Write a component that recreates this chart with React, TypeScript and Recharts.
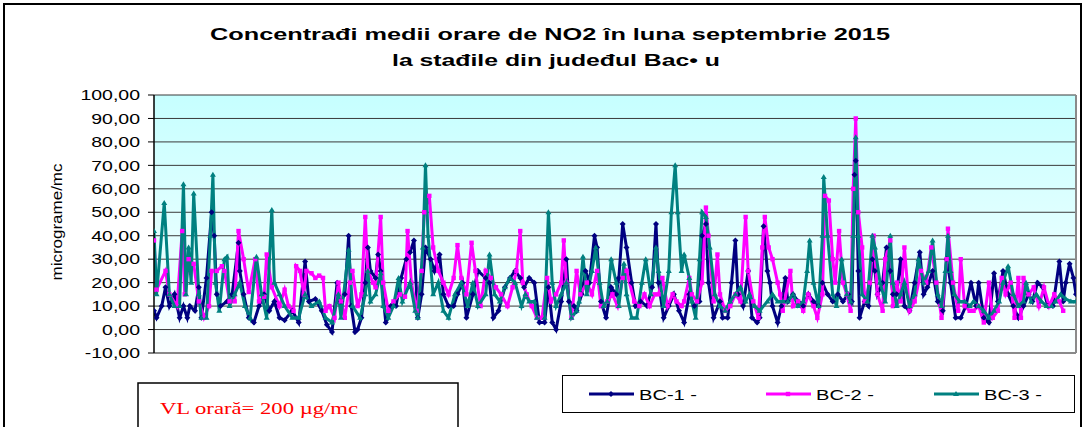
import React from "react";
import {
  LineChart,
  Line,
  XAxis,
  YAxis,
  CartesianGrid,
  ReferenceLine,
  Legend,
} from "recharts";

// hour of the month (0..720) and hourly NO2 value
const hours1 = [0, 2, 6, 9, 12, 16, 20, 23, 26, 28, 32, 35, 37, 41, 45, 47, 49, 52, 57, 61, 66, 67, 70, 74, 78, 82, 86, 90, 94, 98, 102, 108, 113, 118, 121, 126, 131, 135, 139, 143, 146, 149, 152, 154, 157, 159, 162, 165, 167, 169, 173, 175, 177, 181, 185, 189, 193, 197, 200, 203, 206, 209, 212, 216, 219, 223, 226, 230, 234, 237, 241, 244, 249, 253, 259, 262, 265, 269, 274, 278, 282, 286, 289, 293, 297, 301, 305, 308, 311, 314, 318, 322, 324, 328, 330, 334, 337, 340, 344, 346, 349, 353, 357, 361, 363, 366, 369, 373, 376, 380, 385, 389, 392, 394, 398, 402, 406, 410, 414, 418, 422, 426, 428, 431, 433, 437, 442, 444, 448, 451, 454, 456, 460, 464, 467, 471, 473, 476, 479, 481, 483, 487, 490, 493, 495, 499, 503, 507, 511, 515, 519, 522, 526, 530, 534, 538, 542, 545, 547, 548, 550, 551, 555, 558, 561, 563, 565, 569, 572, 575, 577, 580, 583, 586, 590, 594, 598, 601, 604, 608, 612, 616, 619, 622, 626, 630, 634, 638, 642, 644, 648, 652, 656, 659, 663, 667, 671, 675, 679, 683, 686, 690, 694, 698, 702, 707, 710, 712, 715, 718, 720];
const bc1 = [8, 5, 10, 18, 10, 15, 5, 10, 5, 10, 8, 18, 5, 22, 50, 40, 15, 10, 12, 15, 37, 25, 15, 5, 3, 10, 15, 8, 12, 5, 4, 8, 3, 29, 12, 13, 8, 2, -1, 20, 12, 15, 40, 10, -1, 0, 5, 20, 35, 25, 22, 32, 25, 3, 10, 10, 22, 30, 33, 38, 5, 15, 35, 30, 25, 32, 15, 10, 10, 15, 20, 5, 15, 25, 22, 20, 5, 8, 18, 22, 25, 22, 18, 22, 20, 3, 3, 18, 3, 0, 12, 30, 12, 10, 8, 15, 25, 20, 40, 35, 12, 5, 18, 15, 22, 45, 35, 20, 10, 12, 10, 18, 45, 20, 5, 10, 15, 8, 3, 15, 10, 12, 40, 45, 20, 5, 12, 5, 5, 20, 38, 15, 10, 25, 5, 3, 5, 44, 25, 20, 10, 3, 10, 22, 12, 15, 12, 10, 15, 12, 10, 20, 15, 12, 15, 12, 15, 12, 66, 72, 25, 5, 12, 10, 30, 25, 15, 20, 35, 25, 15, 15, 30, 10, 8, 20, 33, 15, 18, 25, 12, 8, 30, 20, 5, 5, 10, 20, 10, 20, 5, 3, 24, 12, 25, 15, 10, 5, 10, 15, 12, 20, 18, 10, 10, 29, 12, 20, 28, 22, 15];

const hours2 = [0, 2, 9, 12, 18, 22, 24, 27, 31, 35, 39, 43, 45, 49, 53, 55, 59, 63, 66, 70, 74, 79, 82, 86, 88, 92, 98, 102, 105, 109, 111, 114, 117, 119, 123, 126, 129, 132, 134, 137, 141, 144, 146, 149, 153, 155, 159, 162, 165, 167, 171, 173, 177, 179, 183, 187, 192, 196, 198, 201, 205, 209, 211, 215, 218, 222, 226, 230, 234, 237, 240, 244, 248, 251, 255, 259, 263, 267, 271, 276, 280, 283, 286, 288, 291, 295, 299, 303, 307, 310, 314, 318, 320, 322, 326, 330, 333, 338, 342, 346, 349, 354, 358, 362, 366, 369, 375, 379, 383, 387, 391, 394, 397, 401, 405, 408, 412, 414, 418, 420, 424, 428, 431, 433, 437, 440, 442, 446, 450, 454, 458, 462, 464, 468, 472, 475, 477, 480, 483, 487, 489, 491, 497, 499, 503, 507, 511, 515, 518, 522, 524, 527, 530, 532, 535, 538, 541, 544, 546, 548, 550, 553, 555, 559, 562, 565, 569, 571, 575, 577, 580, 583, 586, 590, 594, 599, 603, 607, 611, 615, 619, 620, 624, 628, 630, 633, 637, 640, 644, 648, 652, 655, 659, 662, 665, 669, 672, 675, 677, 679, 683, 687, 691, 695, 699, 703, 707, 710];
const bc2 = [38, 17, 25, 15, 10, 42, 15, 30, 28, 12, 5, 10, 25, 25, 27, 25, 12, 12, 42, 30, 16, 30, 12, 14, 32, 18, 10, 17, 10, 8, 27, 25, 15, 25, 24, 22, 23, 22, 8, 10, 5, 20, 12, 5, 20, 25, 10, 15, 48, 25, 20, 18, 48, 20, 8, 12, 15, 14, 42, 20, 8, 25, 50, 57, 35, 25, 20, 15, 22, 36, 22, 15, 37, 25, 10, 25, 22, 18, 15, 10, 18, 25, 42, 20, 15, 10, 5, 5, 22, 12, 15, 20, 38, 20, 5, 25, 15, 20, 15, 25, 10, 12, 15, 10, 22, 25, 12, 10, 15, 10, 15, 15, 22, 10, 15, 12, 10, 12, 22, 15, 12, 20, 52, 40, 12, 32, 15, 8, 10, 15, 12, 48, 25, 12, 5, 35, 48, 35, 30, 20, 15, 8, 25, 10, 12, 8, 15, 10, 5, 15, 57, 55, 30, 20, 42, 20, 15, 8, 60, 90, 50, 35, 12, 20, 40, 15, 8, 30, 38, 10, 20, 12, 35, 8, 12, 25, 20, 35, 20, 5, 30, 43, 20, 8, 30, 10, 8, 8, 10, 3, 20, 5, 8, 22, 15, 20, 5, 22, 5, 22, 15, 18, 10, 18, 10, 15, 12, 8];

const hours3 = [0, 2, 8, 12, 16, 20, 23, 25, 27, 29, 31, 35, 37, 41, 44, 46, 48, 51, 55, 57, 59, 63, 67, 71, 75, 80, 84, 88, 92, 94, 98, 102, 108, 113, 118, 123, 129, 134, 139, 144, 146, 152, 155, 161, 165, 167, 169, 173, 177, 179, 183, 187, 191, 194, 200, 204, 206, 210, 212, 214, 218, 222, 226, 230, 235, 240, 245, 249, 253, 259, 262, 266, 270, 274, 278, 282, 287, 290, 293, 297, 299, 305, 308, 311, 314, 318, 322, 326, 330, 332, 335, 338, 342, 345, 348, 351, 354, 357, 361, 363, 367, 369, 373, 377, 381, 384, 388, 392, 394, 398, 402, 404, 407, 409, 412, 414, 418, 420, 423, 426, 428, 431, 434, 438, 442, 446, 450, 454, 458, 462, 465, 469, 473, 479, 483, 487, 491, 495, 499, 503, 507, 510, 512, 515, 519, 522, 523, 526, 530, 533, 537, 541, 544, 546, 548, 550, 553, 557, 561, 563, 567, 571, 575, 577, 580, 583, 586, 590, 594, 597, 601, 605, 608, 612, 615, 618, 620, 622, 625, 629, 633, 637, 640, 644, 648, 652, 656, 660, 663, 667, 671, 675, 679, 681, 685, 689, 693, 697, 701, 704, 708, 712, 716, 720];
const bc3 = [42, 15, 54, 15, 10, 10, 62, 15, 35, 20, 58, 15, 5, 5, 40, 66, 20, 8, 30, 31, 10, 15, 20, 10, 5, 31, 15, 5, 51, 20, 15, 10, 5, 5, 15, 10, 12, 5, 3, 15, 5, 34, 10, 5, 15, 25, 12, 15, 24, 10, 5, 10, 22, 12, 20, 8, 5, 35, 70, 40, 15, 20, 8, 5, 15, 20, 10, 20, 10, 15, 32, 15, 12, 18, 22, 20, 10, 15, 12, 12, 5, 5, 50, 20, 10, 15, 20, 5, 8, 12, 31, 15, 25, 35, 20, 10, 12, 30, 20, 10, 28, 15, 5, 5, 20, 30, 15, 35, 25, 10, 25, 50, 70, 50, 25, 32, 22, 12, 5, 30, 50, 48, 35, 15, 10, 8, 12, 15, 18, 12, 15, 10, 8, 12, 15, 12, 12, 12, 15, 10, 12, 25, 38, 20, 10, 40, 65, 40, 15, 10, 30, 15, 12, 40, 82, 40, 15, 12, 40, 35, 20, 12, 40, 20, 10, 15, 20, 10, 15, 30, 20, 25, 38, 15, 10, 25, 40, 25, 15, 12, 12, 10, 12, 10, 8, 5, 8, 12, 20, 27, 15, 10, 12, 20, 12, 15, 12, 10, 10, 12, 15, 13, 12, 12];

const yTicks = [-10, 0, 10, 20, 30, 40, 50, 60, 70, 80, 90, 100];
const seriesNames = ["BC-1 -", "BC-2 -", "BC-3 -"];
const titleLines = [
  "Concentrađi medii orare de NO2 în luna septembrie 2015",
  "la stađile din judeđul Bac• u",
];
const yLabel = "micrograme/mc";
const limitNote = "VL  orară= 200 µg/mc";

const NAVY = "#000080";
const MAGENTA = "#ff00ff";
const TEAL = "#008080";

const s1 = hours1.map((h, i) => ({ h, v: bc1[i] }));
const s2 = hours2.map((h, i) => ({ h, v: bc2[i] }));
const s3 = hours3.map((h, i) => ({ h, v: bc3[i] }));

const fmt = (v: number) => v.toFixed(2).replace(".", ",");

const marker = (kind: string, color: string, cx: number, cy: number, key?: any) => {
  if (kind === "diamond")
    return <path key={key} d={`M${cx},${cy - 3}L${cx + 3},${cy}L${cx},${cy + 3}L${cx - 3},${cy}Z`} fill={color} />;
  if (kind === "square")
    return <rect key={key} x={cx - 2.2} y={cy - 2.2} width={4.4} height={4.4} fill={color} />;
  return <path key={key} d={`M${cx},${cy - 3}L${cx + 3},${cy + 2}L${cx - 3},${cy + 2}Z`} fill={color} />;
};

const dotFn = (kind: string, color: string) => (props: any) => {
  const { cx, cy, index } = props;
  if (cx == null || cy == null) return <g key={index} />;
  return marker(kind, color, cx, cy, index);
};

const YTick = (props: any) => {
  const { x, y, payload } = props;
  return (
    <text
      transform={`translate(${x},${y}) scale(1.3,1)`}
      textAnchor="end"
      dominantBaseline="central"
      fontFamily="Liberation Sans, Arial, sans-serif"
      fontSize={15}
      fill="#000"
    >
      {fmt(payload.value)}
    </text>
  );
};

const kinds = ["diamond", "square", "triangle"];
const itemX = [26, 203, 371];

const LegendBox = (props: any) => {
  const payload = props.payload || [];
  return (
    <div
      style={{
        width: 513,
        height: 38,
        border: "1px solid #000",
        boxSizing: "border-box",
        background: "#fff",
      }}
    >
      <svg width={511} height={36}>
        {payload.map((p: any, i: number) => (
          <g key={p.value}>
            <line x1={itemX[i]} x2={itemX[i] + 45} y1={18} y2={18} stroke={p.color} strokeWidth={3} />
            {marker(kinds[i], p.color, itemX[i] + 22, 18)}
            <text
              x={itemX[i] + 50}
              y={18}
              dominantBaseline="central"
              fontFamily="Liberation Sans, Arial, sans-serif"
              fontSize={15}
              textLength={58}
              lengthAdjust="spacingAndGlyphs"
            >
              {p.value}
            </text>
          </g>
        ))}
      </svg>
    </div>
  );
};

export default function App() {
  return (
    <div style={{ position: "absolute", left: 0, top: 0, width: 1083, height: 427, background: "#fff", overflow: "hidden" }}>
      <LineChart width={1083} height={427} margin={{ top: 95, right: 7, bottom: 74, left: 0 }}>
        <defs>
          <linearGradient id="plotBg" x1="0" y1="0" x2="0" y2="1">
            <stop offset="0%" stopColor="#c6ffff" />
            <stop offset="100%" stopColor="#fbffff" />
          </linearGradient>
        </defs>
        <CartesianGrid vertical={false} stroke="#3a3a3a" fill="url(#plotBg)" fillOpacity={1} />
        <XAxis type="number" dataKey="h" domain={[0, 720]} hide allowDataOverflow />
        <YAxis
          type="number"
          domain={[-10, 100]}
          ticks={yTicks}
          interval={0}
          width={154}
          tick={<YTick />}
          tickSize={6}
          tickMargin={8}
          axisLine={{ stroke: "#000", strokeWidth: 1.5 }}
          tickLine={{ stroke: "#000" }}
          allowDataOverflow
        />
        <ReferenceLine x={720} stroke="#8a8a8a" strokeWidth={2} />
        <ReferenceLine y={-10} stroke="#8a8a8a" strokeWidth={2} />
        <Line data={s1} dataKey="v" name={seriesNames[0]} type="linear" stroke={NAVY} strokeWidth={3} dot={dotFn("diamond", NAVY)} isAnimationActive={false} />
        <Line data={s2} dataKey="v" name={seriesNames[1]} type="linear" stroke={MAGENTA} strokeWidth={3} dot={dotFn("square", MAGENTA)} isAnimationActive={false} />
        <Line data={s3} dataKey="v" name={seriesNames[2]} type="linear" stroke={TEAL} strokeWidth={3} dot={dotFn("triangle", TEAL)} isAnimationActive={false} />
        <Legend
          layout="vertical"
          align="center"
          verticalAlign="middle"
          wrapperStyle={{ left: 562, top: 375, width: 513, height: 38 }}
          content={<LegendBox />}
        />
      </LineChart>
      <svg width={1083} height={427} style={{ position: "absolute", left: 0, top: 0, pointerEvents: "none" }}>
        <rect x={4} y={4} width={1077} height={500} fill="none" stroke="#000" strokeWidth={2} />
        <text x={550} y={40} textAnchor="middle" fontFamily="Liberation Sans, Arial, sans-serif" fontWeight="bold" fontSize={17} textLength={680} lengthAdjust="spacingAndGlyphs">
          {titleLines[0]}
        </text>
        <text x={556} y={66} textAnchor="middle" fontFamily="Liberation Sans, Arial, sans-serif" fontWeight="bold" fontSize={17} textLength={328} lengthAdjust="spacingAndGlyphs">
          {titleLines[1]}
        </text>
        <text x={62} y={222} textAnchor="middle" fontFamily="Liberation Sans, Arial, sans-serif" fontSize={15} textLength={117} lengthAdjust="spacingAndGlyphs" transform="rotate(-90 62 222)">
          {yLabel}
        </text>
        <rect x={138} y={383} width={320} height={60} fill="#fff" stroke="#000" strokeWidth={1.5} />
        <text x={160} y={414} fontFamily="Liberation Serif, Times New Roman, serif" fontSize={17} fill="#ff0000" textLength={198} lengthAdjust="spacingAndGlyphs">
          {limitNote}
        </text>
      </svg>
    </div>
  );
}
